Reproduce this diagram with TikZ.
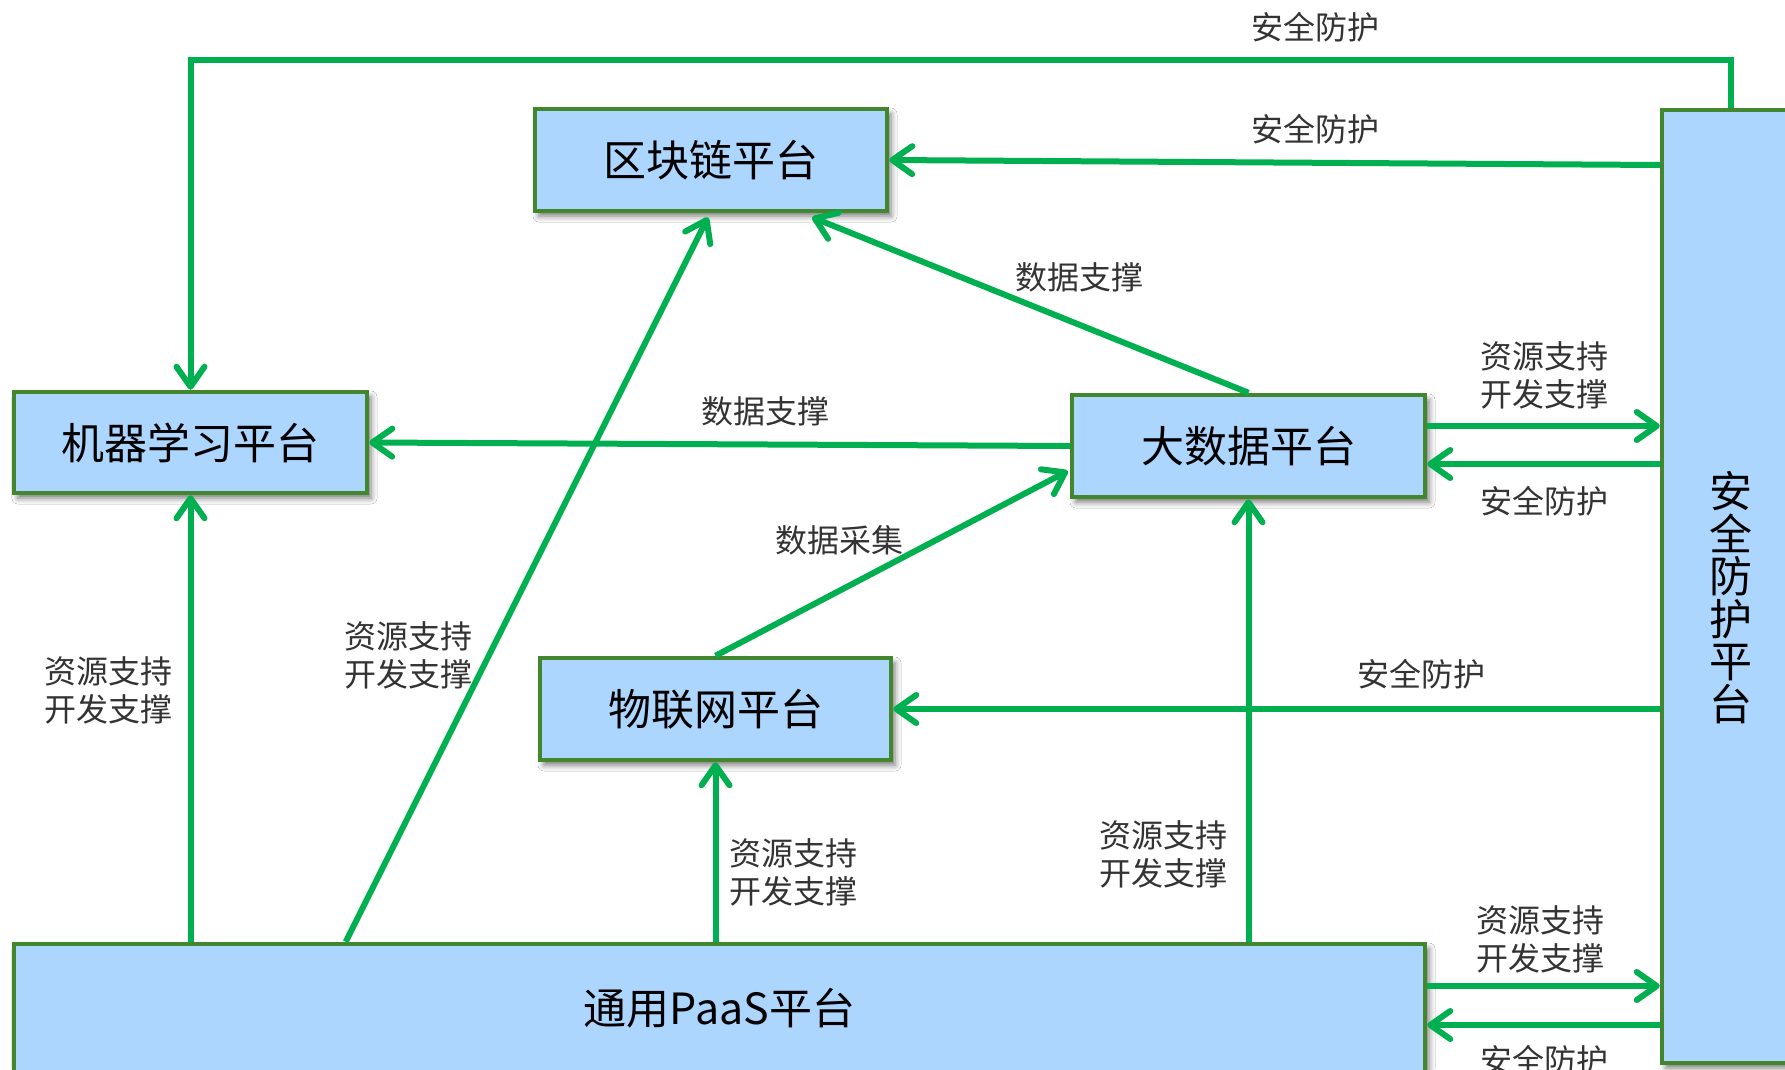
\documentclass[tikz,border=0pt]{standalone}
\usepackage{fontspec}
\setmainfont{Noto Sans CJK SC}
\usetikzlibrary{arrows.meta,shadows.blur,calc}
\definecolor{boxfill}{RGB}{173,214,255}
\definecolor{boxline}{RGB}{66,135,46}
\definecolor{arrgreen}{RGB}{0,176,80}
\definecolor{lbl}{RGB}{51,51,51}
\tikzset{
  platform/.style={draw=boxline, line width=4.5pt, fill=boxfill, inner sep=0pt,
    font=\fontsize{43}{48}\selectfont, text=black,
    blur shadow={shadow xshift=4pt, shadow yshift=-5pt, shadow blur radius=6pt, shadow opacity=55}},
  arr/.style={draw=arrgreen, line width=6pt,
    -{Straight Barb[length=20pt,width=28pt,line cap=round,line join=round]}},
  lab/.style={text=lbl, font=\fontsize{32}{38}\selectfont, align=center, inner sep=0pt},
}
\begin{document}
\begin{tikzpicture}[x=1pt,y=-1pt]
\useasboundingbox (0,0) rectangle (1785,1069);
\clip (0,0) rectangle (1785,1069);
\fill[white] (0,0) rectangle (1785,1069);

% platforms
\node[platform, minimum width=353pt, minimum height=101pt] (ml) at (190.5,442.5) {机器学习平台};
\node[platform, minimum width=352pt, minimum height=102pt] (bc) at (711,160) {区块链平台};
\node[platform, minimum width=353pt, minimum height=102pt] (bd) at (1248.5,446) {大数据平台};
\node[platform, minimum width=351pt, minimum height=102pt] (iot) at (715.5,709) {物联网平台};
\node[platform, minimum width=1411pt, minimum height=128pt] (paas) at (719.5,1008) {通用PaaS平台};
\node[platform, minimum width=138pt, minimum height=953pt] (sec) at (1731,586.5) {};
\node[align=center, inner sep=0pt, text=black, font=\fontsize{43}{42.5}\selectfont]
  (sectext) at ($(sec.center)+(0,11)$) {安\\全\\防\\护\\平\\台};

% connectors
\draw[arr] (sec.north) -- ++(0,-48) -| (ml.north);
\draw[arr] ($(sec.west |- bc.east)+(0,5)$) -- (bc.east);
\draw[arr] (bd.north) -- ($(bc.south)+(101,4)$);
\draw[arr] ($(paas.north west)+(334,0)$) -- ($(bc.south)+(-3,4)$);
\draw[arr] (bd.west) -- (ml.east);
\draw[arr] (iot.north) -- ($(bd.west)+(-2,25)$);
\draw[arr] ($(bd.east)+(0,-20)$) -- ($(sec.west |- bd.east)+(0,-20)$);
\draw[arr] ($(sec.west |- bd.east)+(0,18)$) -- ($(bd.east)+(0,18)$);
\draw[arr] (sec.west |- iot.east) -- (iot.east);
\draw[arr] (paas.north -| iot.south) -- (iot.south);
\draw[arr] (paas.north -| bd.south) -- (bd.south);
\draw[arr] (paas.north -| ml.south) -- (ml.south);
\draw[arr] ($(paas.east)+(0,-22)$) -- ($(sec.west |- paas.east)+(0,-22)$);
\draw[arr] ($(sec.west |- paas.east)+(0,17)$) -- ($(paas.east)+(0,17)$);

% labels
\node[lab] (l1) at (1315,27) {安全防护};
\node[lab] (l2) at (1315,129) {安全防护};
\node[lab] (l3) at (1079,277) {数据支撑};
\node[lab] (l4) at (408,655) {资源支持\\开发支撑};
\node[lab] (l5) at (765,411) {数据支撑};
\node[lab] (l6) at (839,540) {数据采集};
\node[lab] (l7) at (1544,375) {资源支持\\开发支撑};
\node[lab] (l8) at (1544,501) {安全防护};
\node[lab] (l9) at (1421,674) {安全防护};
\node[lab] (l10) at (793,872) {资源支持\\开发支撑};
\node[lab] (l11) at (1163,854) {资源支持\\开发支撑};
\node[lab] (l12) at (108,690) {资源支持\\开发支撑};
\node[lab] (l13) at (1540,939) {资源支持\\开发支撑};
\node[lab] (l14) at (1544,1060) {安全防护};
\end{tikzpicture}
\end{document}
